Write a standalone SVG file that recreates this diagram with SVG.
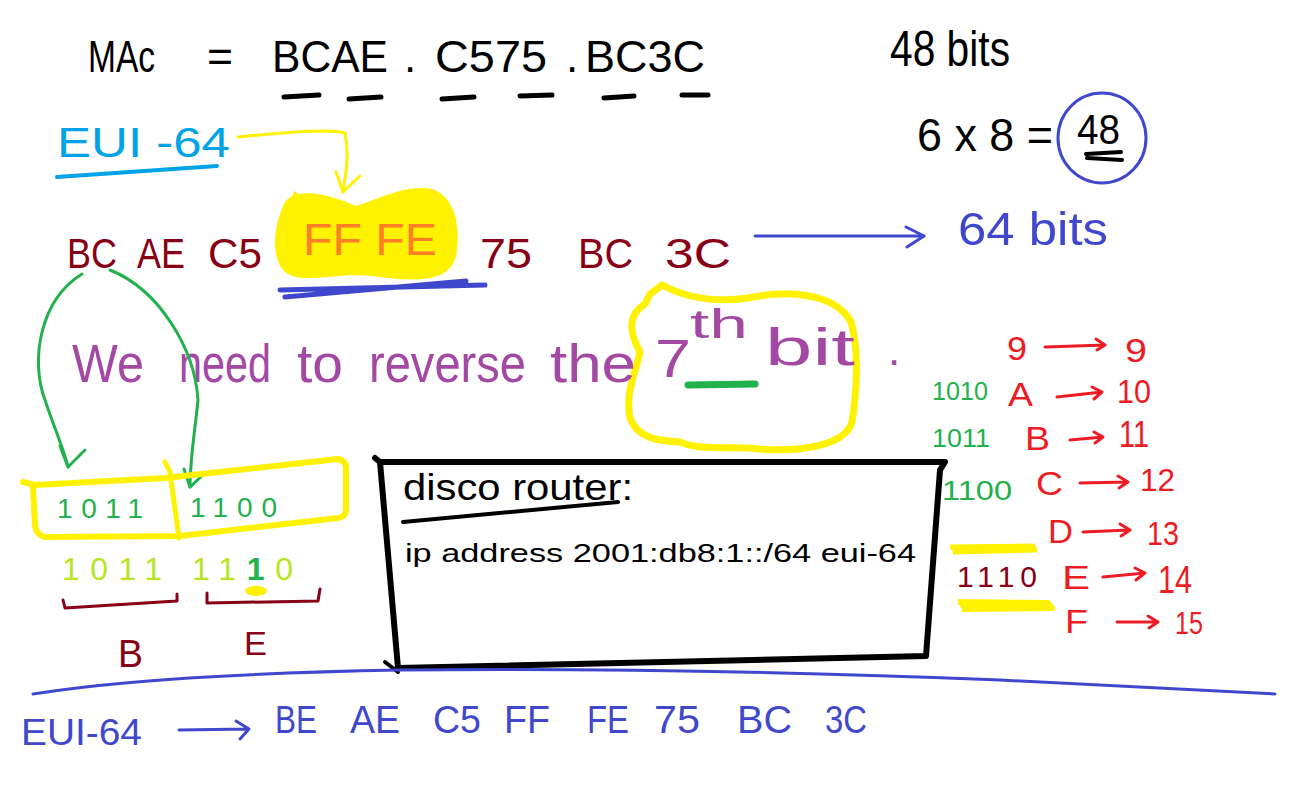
<svg xmlns="http://www.w3.org/2000/svg" width="1306" height="786" viewBox="0 0 1306 786">
<defs>
<style>
text{font-family:"Liberation Sans","DejaVu Sans",sans-serif;}
.blk{fill:#000}
.dred{fill:#880015}
.red{fill:#ed1c24}
.grn{fill:#22b14c}
.ygrn{fill:#b5e61d}
.blu{fill:#3f48cc}
.cyan{fill:#00a2e8}
.pur{fill:#a349a4}
.org{fill:#ff7f27}
.ln{fill:none;stroke-linecap:round;stroke-linejoin:round}
</style>
</defs>
<rect width="1306" height="786" fill="#fff"/>

<g id="mac">
<text x="88" y="72" font-size="44" class="blk" textLength="67" lengthAdjust="spacingAndGlyphs">MAc</text>
<text x="207" y="72" font-size="44" class="blk" textLength="26" lengthAdjust="spacingAndGlyphs">=</text>
<text x="272" y="72" font-size="44" class="blk" textLength="116" lengthAdjust="spacingAndGlyphs">BCAE</text>
<text x="404" y="72" font-size="44" class="blk">.</text>
<text x="435" y="72" font-size="44" class="blk" textLength="112" lengthAdjust="spacingAndGlyphs">C575</text>
<text x="566" y="72" font-size="44" class="blk">.</text>
<text x="585" y="72" font-size="44" class="blk" textLength="120" lengthAdjust="spacingAndGlyphs">BC3C</text>
<g class="ln" stroke="#000" stroke-width="5">
<path d="M284,97 L319,95"/><path d="M349,99 L381,97"/><path d="M442,99 L474,97"/><path d="M520,96 L552,95"/><path d="M604,98 L634,96"/><path d="M682,95 L708,95"/>
</g>
</g>

<g id="bits48">
<text x="890" y="66" font-size="50" class="blk" textLength="120" lengthAdjust="spacingAndGlyphs">48 bits</text>
</g>

<g id="calc">
<text x="917" y="151" font-size="46" class="blk" textLength="136" lengthAdjust="spacingAndGlyphs">6 x 8 =</text>
<ellipse cx="1102" cy="138" rx="44" ry="45" class="ln" stroke="#3f48cc" stroke-width="3"/>
<text x="1077" y="144" font-size="42" class="blk" textLength="43" lengthAdjust="spacingAndGlyphs">48</text>
<path d="M1086,154 L1121,152 M1087,158 L1122,160" class="ln" stroke="#000" stroke-width="4"/>
</g>

<g id="eui-label">
<text x="57" y="157" font-size="42" class="cyan" textLength="173" lengthAdjust="spacingAndGlyphs">EUI -64</text>
<path d="M57,177 L217,166" class="ln" stroke="#00a2e8" stroke-width="4"/>
</g>

<g id="eui-row">
<path d="M285,202 C298,186 330,195 356,206 C382,198 405,184 432,189 C457,197 461,232 456,256 C450,281 420,283 372,276 C332,272 300,286 284,271 C270,256 274,224 285,202 Z" fill="#fff200"/>
<path d="M290,205 L295,193 L300,200" class="ln" stroke="#fff200" stroke-width="3"/>
<text x="67" y="268" font-size="42" class="dred" textLength="50" lengthAdjust="spacingAndGlyphs">BC</text>
<text x="137" y="268" font-size="42" class="dred" textLength="48" lengthAdjust="spacingAndGlyphs">AE</text>
<text x="208" y="268" font-size="42" class="dred" textLength="54" lengthAdjust="spacingAndGlyphs">C5</text>
<text x="303" y="255" font-size="44" class="org" textLength="134" lengthAdjust="spacingAndGlyphs">FF FE</text>
<text x="480" y="268" font-size="42" class="dred" textLength="52" lengthAdjust="spacingAndGlyphs">75</text>
<text x="578" y="268" font-size="42" class="dred" textLength="55" lengthAdjust="spacingAndGlyphs">BC</text>
<text x="665" y="268" font-size="42" class="dred" textLength="66" lengthAdjust="spacingAndGlyphs">3C</text>
<path d="M280,290 L485,285 M285,297 L466,281" class="ln" stroke="#3f48cc" stroke-width="5"/>
</g>

<g id="bits64">
<text x="958" y="245" font-size="46" class="blu" textLength="150" lengthAdjust="spacingAndGlyphs">64 bits</text>
</g>

<g id="reverse">
<path d="M650,294 L662,285 C690,300 720,302 748,298 C785,290 835,292 851,322 C860,352 856,398 852,422 C845,446 800,452 760,449 C730,446 700,451 680,442 C658,441 637,438 630,418 C625,392 636,372 640,352 C630,334 626,316 645,304 Z" class="ln" stroke="#fff200" stroke-width="7"/>
<text x="72" y="382" font-size="54" class="pur" textLength="72" lengthAdjust="spacingAndGlyphs">We</text>
<text x="179" y="382" font-size="54" class="pur" textLength="92" lengthAdjust="spacingAndGlyphs">need</text>
<text x="297" y="382" font-size="54" class="pur" textLength="46" lengthAdjust="spacingAndGlyphs">to</text>
<text x="369" y="382" font-size="54" class="pur" textLength="157" lengthAdjust="spacingAndGlyphs">reverse</text>
<text x="550" y="382" font-size="54" class="pur" textLength="86" lengthAdjust="spacingAndGlyphs">the</text>
<text x="655" y="377" font-size="54" class="pur" textLength="36" lengthAdjust="spacingAndGlyphs">7</text>
<text x="690" y="338" font-size="40" class="pur" textLength="58" lengthAdjust="spacingAndGlyphs">th</text>
<text x="765" y="365" font-size="52" class="pur" textLength="90" lengthAdjust="spacingAndGlyphs">bit</text>
<text x="888" y="365" font-size="44" class="pur">.</text>
<path d="M688,385 L755,384" class="ln" stroke="#22b14c" stroke-width="7"/>
</g>

<g id="connectors">
<path d="M82,274 C40,300 30,360 45,400 C55,430 64,450 68,467" class="ln" stroke="#22b14c" stroke-width="3"/>
<path d="M60,446 L68,467 L85,450" class="ln" stroke="#22b14c" stroke-width="3"/>
<path d="M110,270 C160,290 195,350 198,400 C195,430 190,460 190,487" class="ln" stroke="#22b14c" stroke-width="3"/>
<path d="M184,469 L190,487 L205,473" class="ln" stroke="#22b14c" stroke-width="3"/>
<path d="M238,137 C280,133 330,128 345,133 C350,160 345,175 343,192" class="ln" stroke="#fff200" stroke-width="3"/>
<path d="M336,172 L343,192 L360,176" class="ln" stroke="#fff200" stroke-width="3"/>
<path d="M755,236 L924,236" class="ln" stroke="#3f48cc" stroke-width="3"/>
<path d="M906,227 L924,236 L907,247" class="ln" stroke="#3f48cc" stroke-width="3"/>
</g>

<g id="bitbox">
<path d="M23,482 L35,485 L165,478 L338,459 Q347,461 346,470 L346,511 Q345,517 338,518 L180,536 L45,537 Q36,535 35,525 L33,487" class="ln" stroke="#fff200" stroke-width="6"/>
<path d="M165,462 L170,472 L179,538" class="ln" stroke="#fff200" stroke-width="5"/>
<text x="57" y="518" font-size="28" class="grn" textLength="86" lengthAdjust="spacing">1011</text>
<text x="190" y="517" font-size="28" class="grn" textLength="87" lengthAdjust="spacing">1100</text>
<text x="62" y="580" font-size="32" class="ygrn" textLength="100" lengthAdjust="spacing">1011</text>
<text x="192" y="580" font-size="32" class="ygrn" textLength="101" lengthAdjust="spacing"><tspan>11</tspan><tspan class="grn" font-weight="bold">1</tspan><tspan>0</tspan></text>
<ellipse cx="256" cy="591" rx="11" ry="5" fill="#fff200"/>
<path d="M63,600 L65,608 L177,601 L177,594" class="ln" stroke="#880015" stroke-width="3"/>
<path d="M207,593 L207,603 L318,601 L320,589" class="ln" stroke="#880015" stroke-width="3"/>
<text x="118" y="667" font-size="38" class="dred" textLength="25" lengthAdjust="spacingAndGlyphs">B</text>
<text x="244" y="655" font-size="34" class="dred" textLength="23" lengthAdjust="spacingAndGlyphs">E</text>
</g>

<g id="router">
<path d="M375,458 L380,462 L945,462 L940,470 L926,656 L398,668 L380,462" class="ln" stroke="#000" stroke-width="6"/>
<path d="M385,662 L398,672" class="ln" stroke="#000" stroke-width="4"/>
<text x="403" y="500" font-size="36" class="blk" textLength="230" lengthAdjust="spacingAndGlyphs">disco router:</text>
<path d="M403,522 L618,502" class="ln" stroke="#000" stroke-width="4"/>
<text x="405" y="562" font-size="26" class="blk" textLength="511" lengthAdjust="spacingAndGlyphs">ip address 2001:db8:1::/64 eui-64</text>
</g>

<g id="hex-table">
<text x="1007" y="360" font-size="34" class="red" textLength="20" lengthAdjust="spacingAndGlyphs">9</text>
<text x="1125" y="362" font-size="34" class="red" textLength="22" lengthAdjust="spacingAndGlyphs">9</text>
<text x="932" y="400" font-size="26" class="grn" textLength="56" lengthAdjust="spacingAndGlyphs">1010</text>
<text x="1008" y="406" font-size="34" class="red" textLength="25" lengthAdjust="spacingAndGlyphs">A</text>
<text x="1117" y="403" font-size="34" class="red" textLength="34" lengthAdjust="spacingAndGlyphs">10</text>
<text x="932" y="447" font-size="26" class="grn" textLength="58" lengthAdjust="spacingAndGlyphs">1011</text>
<text x="1025" y="450" font-size="34" class="red" textLength="25" lengthAdjust="spacingAndGlyphs">B</text>
<text x="1119" y="447" font-size="36" class="red" textLength="30" lengthAdjust="spacingAndGlyphs">11</text>
<text x="942" y="500" font-size="28" class="grn" textLength="70" lengthAdjust="spacingAndGlyphs">1100</text>
<text x="1036" y="495" font-size="34" class="red" textLength="27" lengthAdjust="spacingAndGlyphs">C</text>
<text x="1140" y="491" font-size="32" class="red" textLength="35" lengthAdjust="spacingAndGlyphs">12</text>
<path d="M950,547 L1033,546 L1035,550 L953,552" fill="#fff200" stroke="#fff200" stroke-width="5" stroke-linejoin="round"/>
<text x="1048" y="543" font-size="34" class="red" textLength="25" lengthAdjust="spacingAndGlyphs">D</text>
<text x="1147" y="545" font-size="34" class="red" textLength="32" lengthAdjust="spacingAndGlyphs">13</text>
<text x="957" y="587" font-size="30" class="dred" textLength="80" lengthAdjust="spacing">1110</text>
<text x="1062" y="589" font-size="34" class="red" textLength="28" lengthAdjust="spacingAndGlyphs">E</text>
<text x="1158" y="593" font-size="38" class="red" textLength="34" lengthAdjust="spacingAndGlyphs">14</text>
<path d="M958,602 L1048,603 L1052,608 L962,609" fill="#fff200" stroke="#fff200" stroke-width="6" stroke-linejoin="round"/>
<text x="1065" y="633" font-size="34" class="red" textLength="23" lengthAdjust="spacingAndGlyphs">F</text>
<text x="1175" y="634" font-size="32" class="red" textLength="28" lengthAdjust="spacingAndGlyphs">15</text>
<g class="ln" stroke="#ed1c24" stroke-width="3">
<path d="M1045,347 L1105,345 M1096,339 L1105,345 L1097,350"/>
<path d="M1057,397 L1102,392 M1092,387 L1102,392 L1094,399"/>
<path d="M1070,440 L1103,437 M1094,432 L1103,437 L1095,443"/>
<path d="M1080,483 L1128,482 M1118,476 L1128,482 L1119,488"/>
<path d="M1083,532 L1130,530 M1120,524 L1130,530 L1121,536"/>
<path d="M1103,577 L1145,573 M1135,568 L1145,573 L1136,580"/>
<path d="M1117,622 L1158,622 M1148,616 L1158,622 L1149,628"/>
</g>
</g>

<g id="divider">
<path d="M33,694 C120,680 240,673 400,670 C600,668 800,672 1000,680 C1120,686 1200,690 1275,694" class="ln" stroke="#3f48cc" stroke-width="3"/>
</g>

<g id="result">
<text x="21" y="745" font-size="36" class="blu" textLength="121" lengthAdjust="spacingAndGlyphs">EUI-64</text>
<path d="M179,730 L248,729 M236,721 L249,729 L240,739" class="ln" stroke="#3f48cc" stroke-width="3"/>
<text x="275" y="733" font-size="38" class="blu" textLength="42" lengthAdjust="spacingAndGlyphs">BE</text>
<text x="350" y="733" font-size="38" class="blu" textLength="50" lengthAdjust="spacingAndGlyphs">AE</text>
<text x="433" y="733" font-size="38" class="blu" textLength="48" lengthAdjust="spacingAndGlyphs">C5</text>
<text x="504" y="733" font-size="38" class="blu" textLength="46" lengthAdjust="spacingAndGlyphs">FF</text>
<text x="587" y="733" font-size="38" class="blu" textLength="42" lengthAdjust="spacingAndGlyphs">FE</text>
<text x="654" y="733" font-size="38" class="blu" textLength="46" lengthAdjust="spacingAndGlyphs">75</text>
<text x="737" y="733" font-size="38" class="blu" textLength="55" lengthAdjust="spacingAndGlyphs">BC</text>
<text x="825" y="733" font-size="38" class="blu" textLength="42" lengthAdjust="spacingAndGlyphs">3C</text>
</g>
</svg>
